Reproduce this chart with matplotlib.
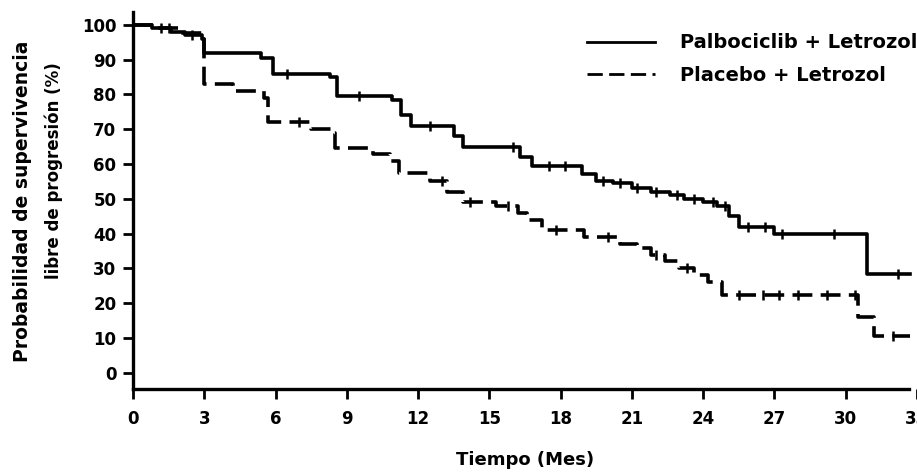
import numpy as np
import matplotlib
matplotlib.use("Agg")
import matplotlib.pyplot as plt

# Kaplan-Meier steps (months, % free of progression)
pal_t = [0, 0.8, 1.6, 2.2, 2.9, 3.0, 5.4, 5.9, 8.3, 8.6, 10.9, 11.3, 11.7,
         13.5, 13.9, 16.3, 16.8, 18.9, 19.5, 20.2, 21.0, 21.8, 22.6, 23.2,
         24.0, 24.6, 25.1, 25.5, 27.0, 30.9, 32.7]
pal_s = [100, 99, 98, 97, 96, 92, 90.5, 86, 85, 79.5, 78.5, 74, 71,
         68, 65, 62, 59.5, 57, 55, 54.5, 53, 52, 51, 50,
         49, 48, 45, 42, 40, 28.5, 28.5]

pla_t = [0, 1.0, 2.0, 2.9, 3.0, 4.2, 5.5, 5.7, 7.5, 8.4, 8.5, 10.1, 10.8,
         11.2, 12.5, 13.2, 13.9, 15.3, 16.2, 16.6, 17.2, 19.0, 20.5, 21.2,
         21.8, 22.4, 23.0, 23.6, 24.2, 24.8, 30.5, 31.2, 32.7]
pla_s = [100, 99, 97.5, 96, 83, 81, 79, 72, 70, 69, 64.5, 63, 61,
         57.5, 55, 52, 49, 48, 46, 44, 41, 39, 37, 36,
         34, 32, 30, 28, 26, 22.5, 16, 10.5, 10.5]

# censored observations (months)
pal_cens = [1.2, 2.5, 6.5, 9.5, 12.5, 16.0, 17.5, 18.2, 19.8, 20.5, 21.2,
            22.0, 22.9, 23.6, 24.4, 24.9, 25.9, 26.6, 27.3, 29.5, 32.2]
pla_cens = [1.5, 7.0, 13.0, 14.2, 15.8, 17.8, 20.0, 22.0, 23.3, 25.5,
            26.5, 27.2, 28.0, 29.2, 30.4, 32.0]

labels = ["Palbociclib + Letrozol", "Placebo + Letrozol"]
xticks = [0, 3, 6, 9, 12, 15, 18, 21, 24, 27, 30, 33]
yticks = [0, 10, 20, 30, 40, 50, 60, 70, 80, 90, 100]

plt.rcParams["font.family"] = ["DejaVu Sans"]
plt.rcParams["font.weight"] = "bold"

fig = plt.figure(figsize=(9.17, 4.76), dpi=100)
ax = fig.add_axes([0.145, 0.183, 0.855, 0.792])


def step_at(t, s, x):
    i = np.searchsorted(t, x, side="right") - 1
    return np.asarray(s)[i]


ax.plot(pal_t, pal_s, drawstyle="steps-post", color="black", lw=2.6,
        label=labels[0])
ax.plot(pla_t, pla_s, drawstyle="steps-post", color="black", lw=2.6,
        dashes=(5.5, 2.3), label=labels[1])
ax.plot(pal_cens, step_at(pal_t, pal_s, pal_cens), ls="none", marker="|",
        ms=7, mew=1.8, color="black")
ax.plot(pla_cens, step_at(pla_t, pla_s, pla_cens), ls="none", marker="|",
        ms=7, mew=1.8, color="black")

ax.set_xlim(0, 32.67)
ax.set_ylim(-4.6, 103.7)
ax.set_xticks(xticks)
ax.set_yticks(yticks)
ax.tick_params(axis="both", direction="out", length=7, width=2,
               labelsize=12, pad=5)
ax.tick_params(axis="x", pad=8)
for sp in ["top", "right"]:
    ax.spines[sp].set_visible(False)
for sp in ["left", "bottom"]:
    ax.spines[sp].set_linewidth(2.4)
ax.spines["bottom"].set_bounds(0, 32.67)

ax.set_xlabel("Tiempo (Mes)", fontsize=13, fontweight="bold", labelpad=17)
fig.text(0.025, 0.578, "Probabilidad de supervivencia", rotation=90,
         ha="center", va="center", fontsize=13.5, fontweight="bold")
fig.text(0.059, 0.641, "libre de progresión (%)", rotation=90,
         ha="center", va="center", fontsize=12, fontweight="bold")

leg = ax.legend(loc="upper left", bbox_to_anchor=(0.579, 0.943),
                frameon=False, fontsize=14, handlelength=3.5,
                handletextpad=1.3, labelspacing=0.7, borderaxespad=0,
                borderpad=0)
for line in leg.get_lines():
    line.set_linewidth(2.0)

fig.savefig("out.png", dpi=100)
